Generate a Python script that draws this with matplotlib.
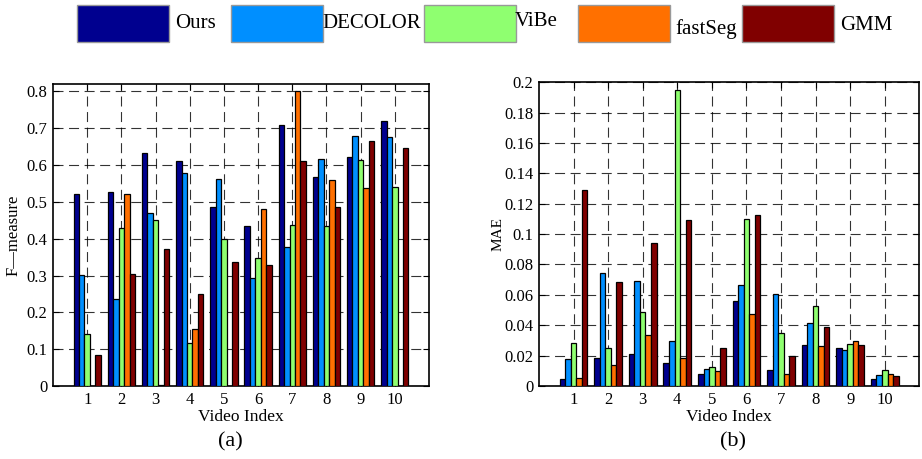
import matplotlib
matplotlib.use("Agg")
import matplotlib.pyplot as plt
from matplotlib.patches import Rectangle
import numpy as np

# methods and colours (MATLAB jet-like bar colours)
methods = ["Ours", "DECOLOR", "ViBe", "fastSeg", "GMM"]
colors = ["#00008F", "#008FFF", "#8FFF70", "#FF7000", "#800000"]
videos = [1, 2, 3, 4, 5, 6, 7, 8, 9, 10]

# F-measure per video
f_ours = [0.522, 0.527, 0.632, 0.611, 0.486, 0.434, 0.709, 0.568, 0.621, 0.719]
f_decolor = [0.301, 0.235, 0.471, 0.579, 0.563, 0.293, 0.377, 0.616, 0.680, 0.675]
f_vibe = [0.140, 0.428, 0.450, 0.118, 0.400, 0.348, 0.437, 0.434, 0.613, 0.541]
f_fastseg = [0.0, 0.520, 0.003, 0.156, 0.0, 0.480, 0.802, 0.560, 0.537, 0.0]
f_gmm = [0.084, 0.303, 0.373, 0.250, 0.338, 0.328, 0.610, 0.485, 0.664, 0.645]

# MAE per video
m_ours = [0.0044, 0.0182, 0.0213, 0.0154, 0.0077, 0.0557, 0.0108, 0.0270, 0.0252, 0.0049]
m_decolor = [0.0178, 0.0743, 0.0690, 0.0294, 0.0112, 0.0662, 0.0607, 0.0414, 0.0235, 0.0072]
m_vibe = [0.0282, 0.0248, 0.0485, 0.1950, 0.0123, 0.1098, 0.0351, 0.0526, 0.0276, 0.0108]
m_fastseg = [0.0051, 0.0136, 0.0333, 0.0182, 0.0101, 0.0476, 0.0081, 0.0263, 0.0294, 0.0077]
m_gmm = [0.1290, 0.0687, 0.0940, 0.1094, 0.0252, 0.1127, 0.0200, 0.0386, 0.0270, 0.0066]

f_yticks = [0, 0.1, 0.2, 0.3, 0.4, 0.5, 0.6, 0.7, 0.8]
f_ylabels = ["0", "0.1", "0.2", "0.3", "0.4", "0.5", "0.6", "0.7", "0.8"]
m_yticks = [0, 0.02, 0.04, 0.06, 0.08, 0.1, 0.12, 0.14, 0.16, 0.18, 0.2]
m_ylabels = ["0", "0.02", "0.04", "0.06", "0.08", "0.1", "0.12", "0.14", "0.16", "0.18", "0.2"]

serif = "Liberation Serif"

fig = plt.figure(figsize=(9.22, 4.59), dpi=100)
ax1 = fig.add_axes([0.0575, 0.159, 0.4078, 0.658])
ax2 = fig.add_axes([0.5846, 0.159, 0.4125, 0.662])

x = np.array(videos)
w = 0.16


def draw(ax, series, ylim, yticks, ylabels, ylabel, ylab_x, ylab_size):
    for k, vals in enumerate(series):
        ax.bar(x + (k - 2) * w, vals, width=w, color=colors[k],
               edgecolor="black", linewidth=0.9, zorder=3)
    ax.set_xlim(0, 11)
    ax.set_ylim(*ylim)
    ax.set_xticks(videos)
    ax.set_xticklabels([str(v) for v in videos], fontfamily=serif, fontsize=12)
    ax.set_yticks(yticks)
    ax.set_yticklabels(ylabels, fontfamily=serif, fontsize=12)
    ax.tick_params(direction="in", top=True, right=True, length=4, width=0.8, pad=4)
    ax.grid(True, color="black", linestyle=(0, (9, 5)), linewidth=0.8, alpha=0.8, zorder=0)
    ax.set_axisbelow(True)
    for s in ax.spines.values():
        s.set_linewidth(1.2)
    ax.set_xlabel("Video Index", fontfamily=serif, fontsize=12.5)
    ax.xaxis.set_label_coords(0.5, -0.075)
    ax.set_ylabel(ylabel, fontfamily=serif, fontsize=ylab_size)
    ax.yaxis.set_label_coords(ylab_x, 0.5)


draw(ax1, [f_ours, f_decolor, f_vibe, f_fastseg, f_gmm], (0, 0.82),
     f_yticks, f_ylabels, "F—measure", -0.085, 12)
draw(ax2, [m_ours, m_decolor, m_vibe, m_fastseg, m_gmm], (0, 0.2),
     m_yticks, m_ylabels, "MAE", -0.09, 11)

fig.text(0.25, 0.037, "(a)", fontfamily=serif, fontsize=16, ha="center", va="center")
fig.text(0.795, 0.037, "(b)", fontfamily=serif, fontsize=16, ha="center", va="center")

# legend strip at the top
box_x = [77, 231, 424, 578, 742]
text_x = [175, 322, 515, 675, 840]
text_dy = [0, 0, -2, 6, 2]
for k, name in enumerate(methods):
    fig.patches.append(Rectangle((box_x[k] / 922, 1 - 42 / 459), 92 / 922, 37 / 459,
                                 transform=fig.transFigure, facecolor=colors[k],
                                 edgecolor="#999999", linewidth=1))
    fig.text(text_x[k] / 922, 1 - (23 + text_dy[k]) / 459, name, fontfamily=serif,
             fontsize=15, ha="left", va="center")

fig.savefig("out.png", dpi=100)
